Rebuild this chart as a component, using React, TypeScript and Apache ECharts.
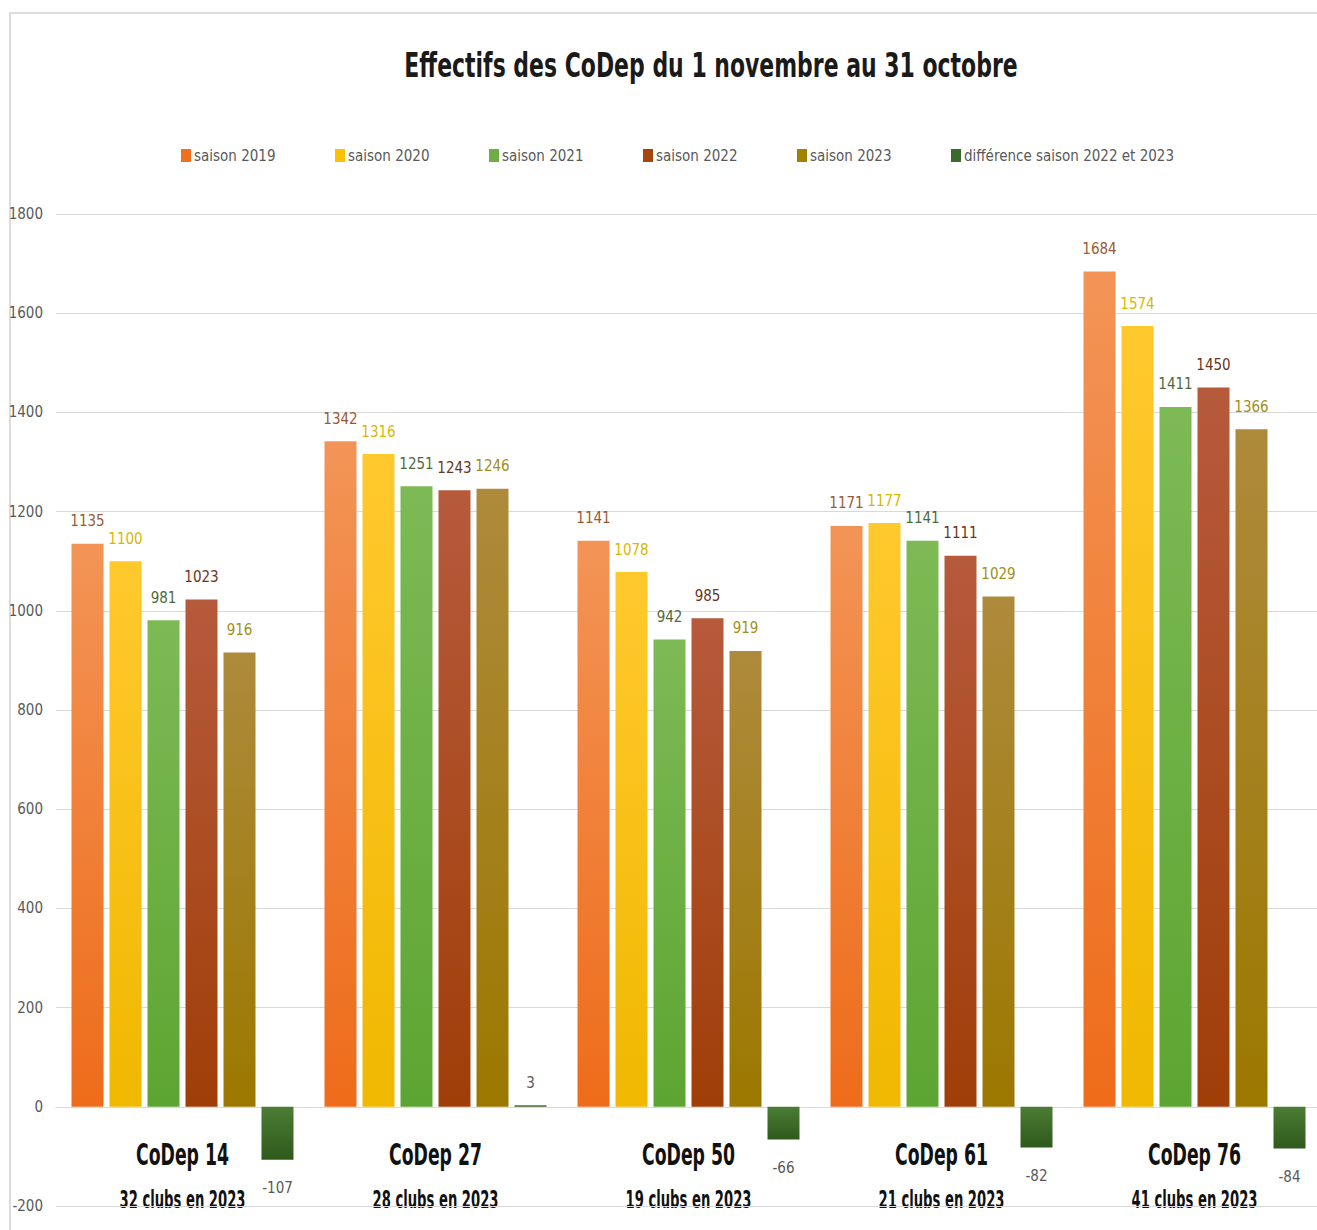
import React, { useEffect, useRef } from "react";
import * as echarts from "echarts";

const titleText = "Effectifs des CoDep du 1 novembre au 31 octobre";
const categories = ["CoDep 14", "CoDep 27", "CoDep 50", "CoDep 61", "CoDep 76"];
const clubs = ["32 clubs en 2023", "28 clubs en 2023", "19 clubs en 2023", "21 clubs en 2023", "41 clubs en 2023"];
const seriesNames = ["saison 2019", "saison 2020", "saison 2021", "saison 2022", "saison 2023", "différence saison 2022 et 2023"];
const s2019 = [1135, 1342, 1141, 1171, 1684];
const s2020 = [1100, 1316, 1078, 1177, 1574];
const s2021 = [981, 1251, 942, 1141, 1411];
const s2022 = [1023, 1243, 985, 1111, 1450];
const s2023 = [916, 1246, 919, 1029, 1366];
const diff = [-107, 3, -66, -82, -84];
const yTicks = { min: -200, max: 1800, interval: 200 };

const FONT = "'DejaVu Sans', sans-serif";

const styles = [
  { top: "#F39456", bottom: "#EE6C1A", legend: "#F07020", label: "#9A5A32" },
  { top: "#FFC92E", bottom: "#F0B800", legend: "#FFC000", label: "#D8B800" },
  { top: "#7DBA55", bottom: "#5DA532", legend: "#70AD47", label: "#4E6A3E" },
  { top: "#B65A3C", bottom: "#A03E08", legend: "#A5460F", label: "#6A3520" },
  { top: "#AE8A3C", bottom: "#9C7800", legend: "#A08200", label: "#A09018" },
  { top: "#4C7C34", bottom: "#2E5A1C", legend: "#3B6B2B", label: "#595959" },
];

const legendLefts = [181, 335, 489, 643, 797, 951];

export default function App() {
  const ref = useRef<HTMLDivElement>(null);
  useEffect(() => {
    if (!ref.current) return;
    const chart = echarts.init(ref.current, null, { renderer: "svg" });
    const values = [s2019, s2020, s2021, s2022, s2023, diff];
    const series = values.map((vals, i) => {
      const st = styles[i];
      return {
        name: seriesNames[i],
        type: "bar",
        barWidth: 32,
        barGap: "18.75%",
        itemStyle: {
          color: new echarts.graphic.LinearGradient(0, 0, 0, 1, [
            { offset: 0, color: st.top },
            { offset: 1, color: st.bottom },
          ]),
        },
        label: {
          show: true,
          position: "top",
          distance: 15,
          color: st.label,
          fontFamily: FONT,
          fontSize: 15,
        },
        data: vals.map((v) =>
          i === 5 && v < 0
            ? { value: v, label: { position: "bottom", distance: 21 } }
            : v
        ),
      };
    });
    const baseGraphic: any[] = [
      {
        id: "frame",
        type: "rect",
        shape: { x: 10, y: 13, width: 1400, height: 1300 },
        style: { fill: "none", stroke: "#dcdcdc", lineWidth: 2 },
        z: -10,
      },
      {
        id: "title",
        type: "text",
        x: 711,
        y: 66,
        scaleX: 0.74,
        style: {
          text: titleText,
          align: "center",
          verticalAlign: "middle",
          fill: "#1a1a1a",
          font: "bold 33px 'DejaVu Sans', sans-serif",
        },
      },
    ];
    chart.setOption({
      animation: false,
      backgroundColor: "#ffffff",
      textStyle: { fontFamily: FONT },
      graphic: baseGraphic,
      legend: seriesNames.map((n, i) => ({
        left: legendLefts[i],
        top: 148,
        padding: 0,
        itemWidth: 10,
        itemHeight: 13,
        itemGap: 4,
        icon: "rect",
        textStyle: { fontFamily: FONT, fontSize: 15, color: "#595959", padding: [0, 0, 0, -2] },
        data: [{ name: n, itemStyle: { color: styles[i].legend } }],
      })),
      grid: { left: 56, top: 214, width: 1265, height: 992, containLabel: false, outerBoundsMode: "none" },
      xAxis: {
        type: "category",
        data: categories,
        axisLine: { show: true, onZero: true, lineStyle: { color: "#d9d9d9", width: 1 } },
        axisTick: { show: false },
        axisLabel: { show: false },
      },
      yAxis: {
        type: "value",
        min: yTicks.min,
        max: yTicks.max,
        interval: yTicks.interval,
        axisLine: { show: false },
        axisTick: { show: false },
        axisLabel: {
          margin: 13,
          fontFamily: FONT,
          fontSize: 15,
          color: "#595959",
          formatter: (v: number) => String(v),
        },
        splitLine: { lineStyle: { color: "#d9d9d9", width: 1 } },
      },
      series,
    });
    // Category labels positioned from the library's own scales, condensed horizontally
    const y0 = chart.convertToPixel({ yAxisIndex: 0 }, 0) as number;
    const catTexts: any[] = [];
    categories.forEach((c, i) => {
      const x = chart.convertToPixel({ xAxisIndex: 0 }, c) as number;
      catTexts.push({
        id: "cat" + i,
        type: "text",
        x,
        y: y0 + 48,
        scaleX: 0.64,
        style: {
          text: c,
          align: "center",
          verticalAlign: "middle",
          fill: "#111111",
          font: "bold 30px 'DejaVu Sans', sans-serif",
        },
      });
      catTexts.push({
        id: "club" + i,
        type: "text",
        x,
        y: y0 + 93,
        scaleX: 0.61,
        style: {
          text: clubs[i],
          align: "center",
          verticalAlign: "middle",
          fill: "#111111",
          font: "bold 24px 'DejaVu Sans', sans-serif",
        },
      });
    });
    chart.setOption({ graphic: [...baseGraphic, ...catTexts] });
    return () => chart.dispose();
  }, []);
  return (
    <>
      <style>{"#chart-root svg text { font-stretch: condensed !important; }"}</style>
      <div
        id="chart-root"
        ref={ref}
        style={{ position: "absolute", left: 0, top: 0, width: 1317, height: 1230 }}
      />
    </>
  );
}
